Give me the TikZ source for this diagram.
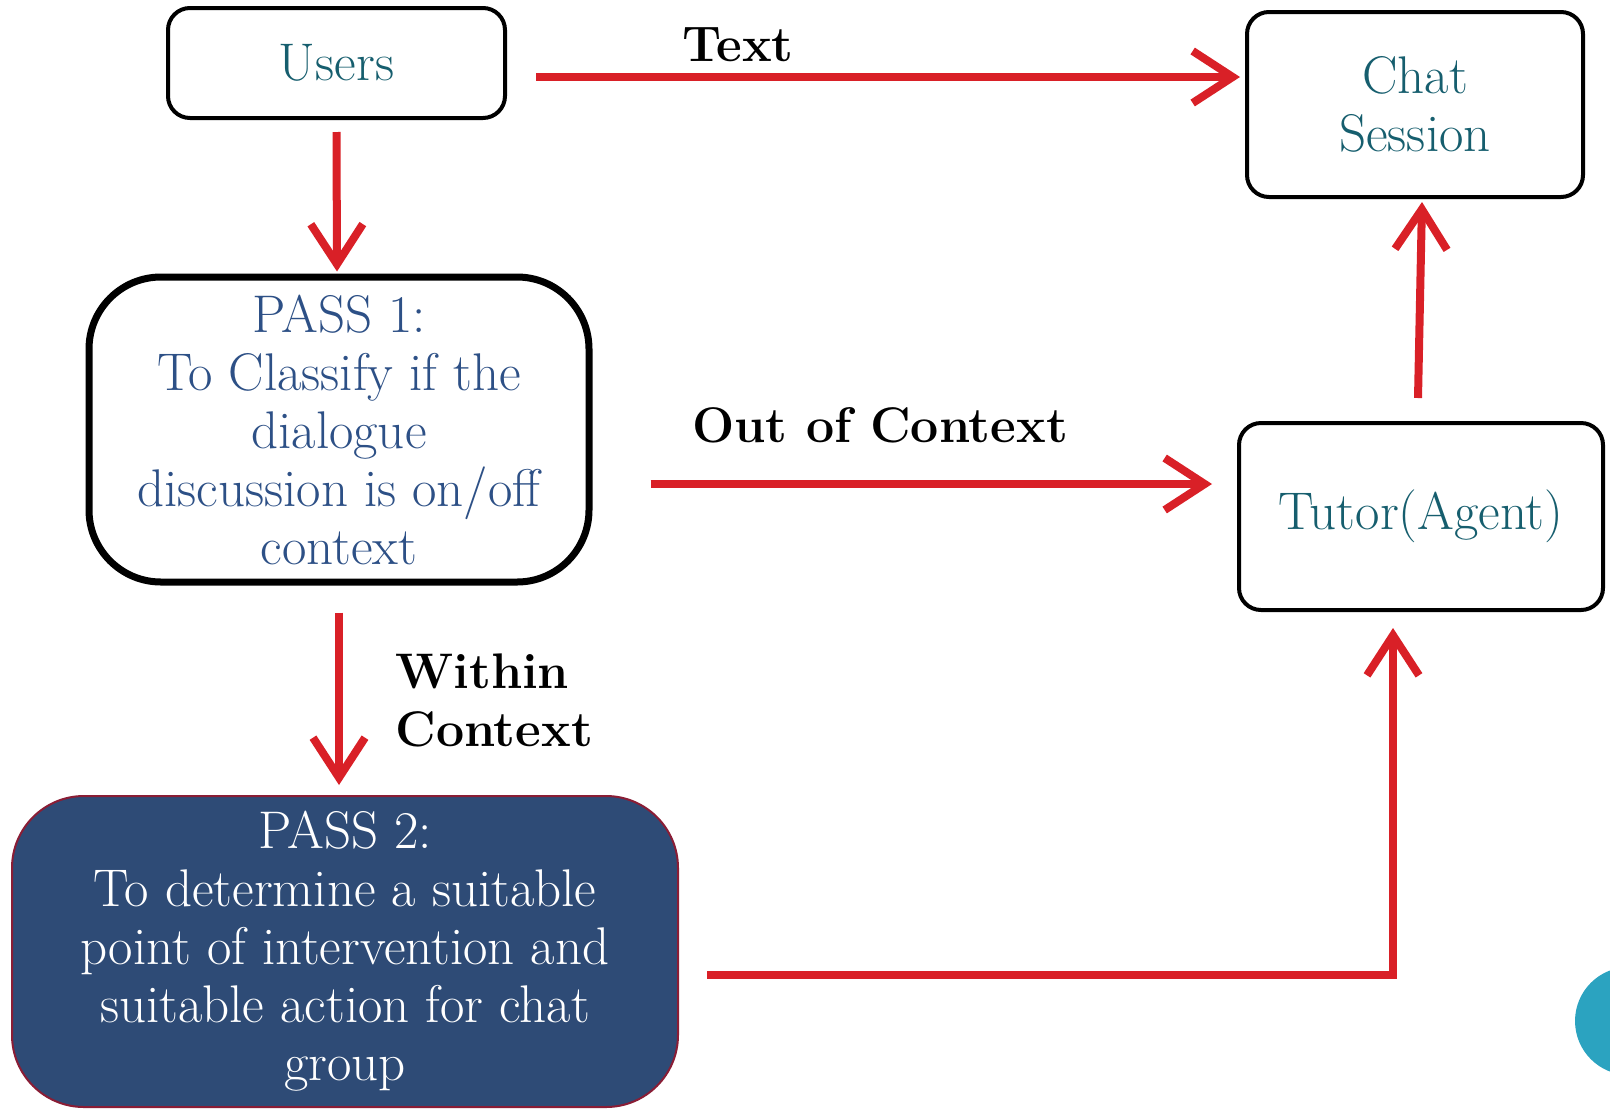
\documentclass[tikz,border=0pt]{standalone}
\usetikzlibrary{arrows.meta,calc}
\definecolor{tealtxt}{HTML}{165E6E}
\definecolor{passtxt}{HTML}{2D5086}
\definecolor{passfill}{HTML}{2E4B76}
\definecolor{passborder}{HTML}{8A1D35}
\definecolor{arrred}{HTML}{D92027}
\definecolor{dotblue}{HTML}{2BA3C0}
\tikzset{
  bigtxt/.style={font=\fontsize{26.5}{29}\selectfont},
  plainbox/.style={draw=black, line width=2pt, fill=white, rounded corners=11pt, inner sep=0pt, align=center, text=tealtxt, bigtxt},
  passone/.style={draw=black, line width=3.5pt, fill=white, rounded corners=36pt, inner sep=0pt, align=center, text=passtxt, bigtxt},
  passtwo/.style={draw=passborder, line width=1pt, fill=passfill, rounded corners=36pt, inner sep=0pt, align=center, text=white, bigtxt},
  arr/.style={draw=arrred, line width=4pt, -{Straight Barb[length=20pt,width=26pt]}},
  lbl/.style={font=\fontsize{25}{29}\selectfont\bfseries, inner sep=0pt}
}
\begin{document}
\begin{tikzpicture}[x=0.5pt,y=-0.5pt]
\useasboundingbox (0,0) rectangle (1610,1109);
\begin{scope}
\clip (0,0) rectangle (1610,1109);
\fill[dotblue] (1629,1021) circle (54);
\end{scope}
\node[plainbox, minimum width=168.5pt, minimum height=55pt] (users) at (336.5,63) {Users};
\node[plainbox, minimum width=168pt, minimum height=92.5pt] (chat) at (1415,104.5) {Chat\\Session};
\node[plainbox, minimum width=182pt, minimum height=93.5pt] (tutor) at (1421,516.5) {Tutor(Agent)};
\node[passone, minimum width=250pt, minimum height=152.5pt] (pass1) at (339,429.5) {PASS 1:\\To Classify if the\\dialogue\\discussion is on/off\\context};
\node[passtwo, minimum width=333pt, minimum height=155.5pt] (pass2) at (345,951.5) {PASS 2:\\To determine a suitable\\point of intervention and\\suitable action for chat\\group};
\draw[arr] ($(users.east)+(29,14)$) -- ($(chat.west)+(-5,-27.5)$);
\draw[arr] ($(users.south)+(0,12)$) -- ($(pass1.north)+(-2,-2)$);
\draw[arr] ($(pass1.east)+(58,54.5)$) -- ($(tutor.west)+(-25,-32.5)$);
\draw[arr] ($(pass1.south)+(0,27)$) -- ($(pass2.north)+(-6,-10)$);
\draw[arr] ($(pass2.east)+(28,23.5)$) -| ($(tutor.south)+(-28,16)$);
\draw[arr] ($(tutor.north)+(-3,-23)$) -- ($(chat.south)+(7,3)$);
\node[lbl] (ltext) at (738,45) {Text};
\node[lbl] (lout) at (880,425) {Out of Context};
\node[lbl, align=left, anchor=west] (lwithin) at (395,700) {Within\\Context};
\end{tikzpicture}
\end{document}
